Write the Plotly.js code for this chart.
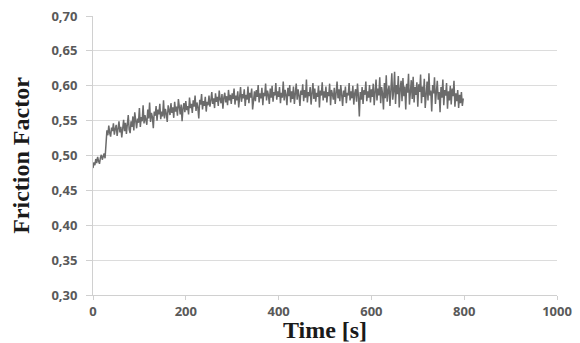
<!DOCTYPE html>
<html>
<head>
<meta charset="utf-8">
<script src="https://cdn.plot.ly/plotly-3.0.1.min.js"></script>
<style>html,body{margin:0;padding:0;background:#fff;}#chart{width:580px;height:343px;}</style>
</head>
<body>
<div id="chart"></div>
<script>
const timeStep = 2;
const friction = [
0.482, 0.490, 0.486, 0.495, 0.489, 0.498, 0.492, 0.488, 0.497, 0.501, 0.494, 0.499, 0.503, 0.496, 0.521, 0.536, 0.529, 0.543, 0.532, 0.527, 0.540, 0.535, 0.546, 0.530, 0.538,
0.544, 0.528, 0.536, 0.549, 0.533, 0.541, 0.526, 0.539, 0.551, 0.535, 0.547, 0.531, 0.543, 0.558, 0.537, 0.532, 0.549, 0.541, 0.556, 0.536, 0.562, 0.545, 0.539, 0.553, 0.547,
0.568, 0.541, 0.555, 0.549, 0.572, 0.546, 0.558, 0.552, 0.544, 0.566, 0.553, 0.576, 0.548, 0.561, 0.555, 0.539, 0.563, 0.557, 0.571, 0.550, 0.566, 0.559, 0.574, 0.552, 0.563,
0.556, 0.579, 0.553, 0.567, 0.560, 0.548, 0.572, 0.564, 0.558, 0.575, 0.561, 0.569, 0.554, 0.577, 0.563, 0.570, 0.557, 0.581, 0.566, 0.559, 0.573, 0.549, 0.568, 0.575, 0.562,
0.578, 0.565, 0.571, 0.559, 0.583, 0.568, 0.574, 0.561, 0.579, 0.570, 0.586, 0.564, 0.576, 0.569, 0.553, 0.580, 0.573, 0.588, 0.566, 0.578, 0.571, 0.584, 0.563, 0.577, 0.572,
0.586, 0.570, 0.579, 0.591, 0.574, 0.582, 0.568, 0.589, 0.577, 0.584, 0.571, 0.593, 0.580, 0.575, 0.588, 0.567, 0.583, 0.590, 0.576, 0.585, 0.572, 0.594, 0.579, 0.587, 0.574,
0.589, 0.581, 0.596, 0.573, 0.586, 0.579, 0.592, 0.569, 0.584, 0.598, 0.577, 0.588, 0.582, 0.595, 0.571, 0.587, 0.580, 0.599, 0.575, 0.590, 0.583, 0.596, 0.566, 0.585, 0.592,
0.578, 0.594, 0.584, 0.601, 0.576, 0.589, 0.582, 0.597, 0.572, 0.590, 0.585, 0.603, 0.579, 0.593, 0.587, 0.574, 0.596, 0.583, 0.600, 0.577, 0.591, 0.586, 0.604, 0.580, 0.592,
0.584, 0.598, 0.575, 0.590, 0.583, 0.606, 0.579, 0.594, 0.587, 0.572, 0.597, 0.585, 0.601, 0.576, 0.592, 0.581, 0.599, 0.574, 0.589, 0.603, 0.580, 0.595, 0.586, 0.571, 0.593,
0.587, 0.602, 0.578, 0.594, 0.583, 0.609, 0.576, 0.591, 0.585, 0.598, 0.573, 0.589, 0.604, 0.581, 0.596, 0.577, 0.590, 0.584, 0.600, 0.569, 0.593, 0.586, 0.605, 0.579, 0.592,
0.583, 0.599, 0.576, 0.591, 0.585, 0.603, 0.572, 0.594, 0.588, 0.580, 0.597, 0.574, 0.590, 0.606, 0.582, 0.595, 0.578, 0.601, 0.587, 0.571, 0.593, 0.584, 0.599, 0.575, 0.590,
0.586, 0.604, 0.579, 0.592, 0.582, 0.600, 0.573, 0.589, 0.595, 0.577, 0.603, 0.585, 0.556, 0.591, 0.580, 0.598, 0.574, 0.594, 0.587, 0.606, 0.578, 0.592, 0.583, 0.601, 0.576,
0.595, 0.584, 0.603, 0.572, 0.591, 0.609, 0.579, 0.596, 0.586, 0.612, 0.575, 0.598, 0.589, 0.566, 0.604, 0.582, 0.615, 0.577, 0.593, 0.600, 0.571, 0.597, 0.618, 0.580, 0.592,
0.620, 0.574, 0.601, 0.588, 0.614, 0.569, 0.596, 0.607, 0.578, 0.611, 0.585, 0.599, 0.566, 0.603, 0.590, 0.617, 0.573, 0.595, 0.608, 0.581, 0.613, 0.576, 0.598, 0.587, 0.605,
0.570, 0.602, 0.591, 0.616, 0.575, 0.599, 0.584, 0.610, 0.568, 0.597, 0.606, 0.579, 0.618, 0.586, 0.593, 0.563, 0.601, 0.589, 0.612, 0.574, 0.596, 0.607, 0.580, 0.591, 0.562,
0.598, 0.583, 0.609, 0.572, 0.594, 0.586, 0.604, 0.567, 0.592, 0.579, 0.600, 0.573, 0.596, 0.585, 0.607, 0.570, 0.589, 0.578, 0.594, 0.568, 0.587, 0.575, 0.591, 0.571, 0.582
];
const time = friction.map((_, i) => i * timeStep);
const xTicks = [0, 200, 400, 600, 800, 1000];
const yTicks = [0.30, 0.35, 0.40, 0.45, 0.50, 0.55, 0.60, 0.65, 0.70];
const yTickLabels = ["0,30", "0,35", "0,40", "0,45", "0,50", "0,55", "0,60", "0,65", "0,70"];

const trace = {
  x: time, y: friction, type: 'scatter', mode: 'lines',
  line: {color: '#6b6b6b', width: 1.5},
  hoverinfo: 'skip'
};
const tickFont = {family: '"Noto Sans", "Liberation Sans", sans-serif', size: 13, color: '#595959', weight: 'bold'};
const titleFont = {family: '"Liberation Serif", "DejaVu Serif", serif', size: 24, color: '#1a1a1a', weight: 'bold'};
const layout = {
  width: 580, height: 343,
  margin: {l: 93, r: 23, t: 16, b: 48},
  paper_bgcolor: '#fff', plot_bgcolor: '#fff',
  showlegend: false,
  xaxis: {
    range: [0, 1000], tickvals: xTicks, ticktext: xTicks.map(String),
    tickfont: tickFont, showgrid: false, zeroline: false,
    showline: true, linecolor: '#d0d0d0', linewidth: 1,
    ticks: 'outside', ticklen: 4, tickcolor: '#d0d0d0',
    title: {text: 'Time [s]', font: titleFont, standoff: 0}
  },
  yaxis: {
    range: [0.30, 0.70], tickvals: yTicks, ticktext: yTickLabels,
    tickfont: tickFont, showgrid: true, gridcolor: '#dcdcdc', gridwidth: 1,
    zeroline: false, showline: true, linecolor: '#d0d0d0', linewidth: 1,
    ticks: 'outside', ticklen: 6, tickcolor: '#d0d0d0', ticklabelstandoff: 6,
    title: {text: 'Friction Factor', font: titleFont, standoff: 14}
  }
};
Plotly.newPlot('chart', [trace], layout, {displayModeBar: false, staticPlot: true});
</script>
</body>
</html>
